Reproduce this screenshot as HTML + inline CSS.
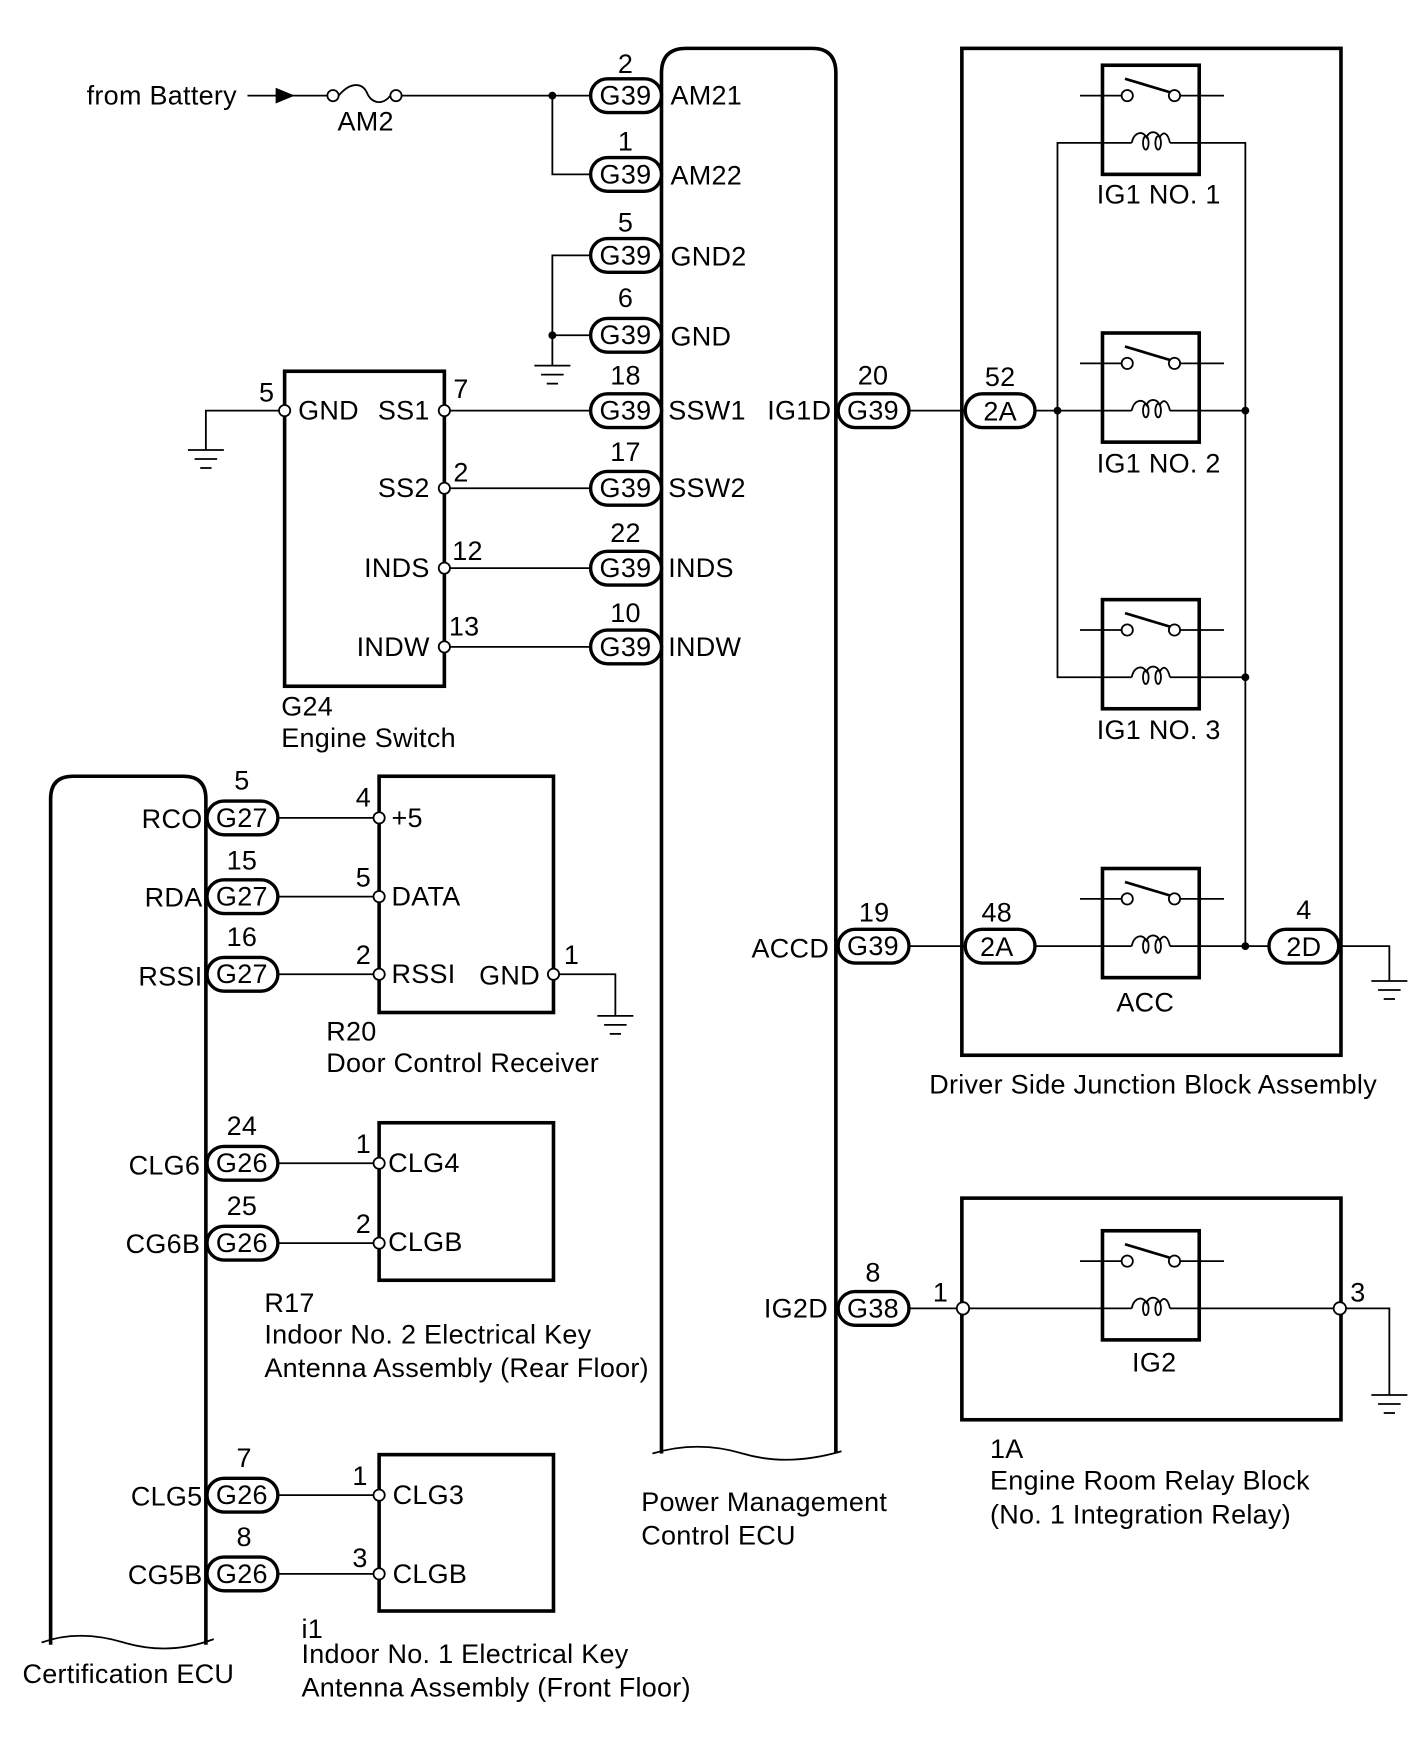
<!DOCTYPE html>
<html><head><meta charset="utf-8"><style>
html,body{margin:0;padding:0;background:#fff}
svg{display:block}
text{font-family:"Liberation Sans",sans-serif;font-size:24px;letter-spacing:0.25px;fill:#000}
.w{stroke:#000;stroke-width:1.6;fill:none}
.t{stroke:#000;stroke-width:3.2;fill:none}
.p{stroke:#000;stroke-width:3;fill:#fff}
.c{stroke:#000;stroke-width:1.6;fill:#fff}
.m{text-anchor:middle}
.e{text-anchor:end}
</style></head><body>
<svg width="1424" height="1763" viewBox="0 0 1265.8 1567.1" preserveAspectRatio="none" xmlns="http://www.w3.org/2000/svg">
<defs>
<g id="relay">
<rect x="0" y="0" width="86" height="97" class="t"/>
<line x1="-20" y1="27" x2="17" y2="27" class="w"/>
<line x1="69" y1="27" x2="108" y2="27" class="w"/>
<circle cx="22" cy="27" r="5" class="c"/>
<circle cx="64" cy="27" r="5" class="c"/>
<line x1="20" y1="12" x2="60" y2="24" stroke="#000" stroke-width="2.4"/>
<line x1="0" y1="69" x2="26" y2="69" class="w"/>
<line x1="60" y1="69" x2="86" y2="69" class="w"/>
<path d="M26,69 C28,59 36,58 39,64 C42,58 48,58 51,64 C54,58 58,60 60,69" class="w"/>
<ellipse cx="38.5" cy="69" rx="2.5" ry="6" class="w"/>
<ellipse cx="49.5" cy="69" rx="2.5" ry="6" class="w"/>
</g>
<g id="gnd">
<line x1="-16" y1="0" x2="16" y2="0" class="w"/>
<line x1="-10" y1="8" x2="10" y2="8" class="w"/>
<line x1="-5" y1="16" x2="5" y2="16" class="w"/>
</g>
</defs>

<text x="77" y="93">from Battery</text>
<line x1="220" y1="85" x2="296" y2="85" class="w"/>
<polygon points="245,78 262,85 245,92" fill="#000"/>
<circle cx="296" cy="85" r="5" class="c"/>
<circle cx="352" cy="85" r="5" class="c"/>
<path d="M301,85 C312,72 322,74 326,82 C330,92 340,94 347,85" class="w"/>
<text x="325" y="116" class="m">AM2</text>
<line x1="357" y1="85" x2="525" y2="85" class="w"/>
<circle cx="491" cy="85" r="3.5" fill="#000"/>
<polyline points="491,85 491,155 525,155" class="w"/>
<polyline points="525,227 491,227 491,325" class="w"/>
<line x1="491" y1="298" x2="525" y2="298" class="w"/>
<circle cx="491" cy="298" r="3.5" fill="#000"/>
<use href="#gnd" x="491" y="325"/>

<path d="M588,1292 L588,65 Q588,43 610,43 L722,43 Q743,43 743,65 L743,1292" class="t"/>
<path d="M580,1292 Q620,1280 660,1292 T748,1290" class="w" stroke-width="2.4"/>
<text x="570" y="1343">Power Management</text>
<text x="570" y="1373">Control ECU</text>

<g>
<rect x="525" y="70" width="63" height="30" rx="15" class="p"/><text x="556" y="93" class="m">G39</text><text x="556" y="65" class="m">2</text><text x="596" y="93">AM21</text>
<rect x="525" y="140" width="63" height="30" rx="15" class="p"/><text x="556" y="163" class="m">G39</text><text x="556" y="134" class="m">1</text><text x="596" y="164">AM22</text>
<rect x="525" y="212" width="63" height="30" rx="15" class="p"/><text x="556" y="235" class="m">G39</text><text x="556" y="206" class="m">5</text><text x="596" y="236">GND2</text>
<rect x="525" y="283" width="63" height="30" rx="15" class="p"/><text x="556" y="306" class="m">G39</text><text x="556" y="273" class="m">6</text><text x="596" y="307">GND</text>
<rect x="525" y="350" width="63" height="30" rx="15" class="p"/><text x="556" y="373" class="m">G39</text><text x="556" y="342" class="m">18</text><text x="594" y="373">SSW1</text>
<rect x="525" y="419" width="63" height="30" rx="15" class="p"/><text x="556" y="442" class="m">G39</text><text x="556" y="410" class="m">17</text><text x="594" y="442">SSW2</text>
<rect x="525" y="490" width="63" height="30" rx="15" class="p"/><text x="556" y="513" class="m">G39</text><text x="556" y="482" class="m">22</text><text x="594" y="513">INDS</text>
<rect x="525" y="560" width="63" height="30" rx="15" class="p"/><text x="556" y="583" class="m">G39</text><text x="556" y="553" class="m">10</text><text x="594" y="583">INDW</text>
</g>

<rect x="253" y="330" width="142" height="280" class="t"/>
<line x1="400" y1="365" x2="525" y2="365" class="w"/>
<line x1="400" y1="434" x2="525" y2="434" class="w"/>
<line x1="400" y1="505" x2="525" y2="505" class="w"/>
<line x1="400" y1="575" x2="525" y2="575" class="w"/>
<polyline points="248,365 183,365 183,400" class="w"/>
<use href="#gnd" x="183" y="400"/>
<circle cx="253" cy="365" r="5" class="c"/>
<circle cx="395" cy="365" r="5" class="c"/>
<circle cx="395" cy="434" r="5" class="c"/>
<circle cx="395" cy="505" r="5" class="c"/>
<circle cx="395" cy="575" r="5" class="c"/>
<text x="237" y="357" class="m">5</text><text x="265" y="373">GND</text>
<text x="382" y="373" class="e">SS1</text><text x="403" y="354">7</text>
<text x="382" y="442" class="e">SS2</text><text x="403" y="428">2</text>
<text x="382" y="513" class="e">INDS</text><text x="402" y="498">12</text>
<text x="382" y="583" class="e">INDW</text><text x="399" y="565">13</text>
<text x="250" y="636">G24</text>
<text x="250" y="664">Engine Switch</text>

<text x="739" y="373" class="e">IG1D</text>
<rect x="745" y="350" width="63" height="30" rx="15" class="p"/><text x="776" y="373" class="m">G39</text><text x="776" y="342" class="m">20</text>
<line x1="808" y1="365" x2="858" y2="365" class="w"/>
<rect x="858" y="350" width="62" height="30" rx="15" class="p"/><text x="889" y="374" class="m">2A</text><text x="889" y="343" class="m">52</text>
<line x1="920" y1="365" x2="980" y2="365" class="w"/>

<text x="737" y="851" class="e">ACCD</text>
<rect x="745" y="826" width="63" height="30" rx="15" class="p"/><text x="776" y="849" class="m">G39</text><text x="777" y="819" class="m">19</text>
<line x1="808" y1="841" x2="858" y2="841" class="w"/>
<rect x="858" y="826" width="62" height="30" rx="15" class="p"/><text x="886" y="850" class="m">2A</text><text x="886" y="819" class="m">48</text>
<line x1="920" y1="841" x2="980" y2="841" class="w"/>

<text x="736" y="1171" class="e">IG2D</text>
<rect x="745" y="1148" width="63" height="30" rx="15" class="p"/><text x="776" y="1171" class="m">G38</text><text x="776" y="1139" class="m">8</text>
<line x1="808" y1="1163" x2="853" y2="1163" class="w"/>

<rect x="855" y="43" width="337" height="895" class="t"/>
<polyline points="980,127 940,127 940,602 980,602" class="w"/>
<polyline points="1066,127 1107,127 1107,841" class="w"/>
<line x1="1066" y1="365" x2="1107" y2="365" class="w"/>
<line x1="1066" y1="602" x2="1107" y2="602" class="w"/>
<line x1="1066" y1="841" x2="1128" y2="841" class="w"/>
<circle cx="940" cy="365" r="3.5" fill="#000"/>
<circle cx="1107" cy="365" r="3.5" fill="#000"/>
<circle cx="1107" cy="602" r="3.5" fill="#000"/>
<circle cx="1107" cy="841" r="3.5" fill="#000"/>
<use href="#relay" x="980" y="58"/>
<use href="#relay" x="980" y="296"/>
<use href="#relay" x="980" y="533"/>
<use href="#relay" x="980" y="772"/>
<text x="1030" y="181" class="m">IG1 NO. 1</text>
<text x="1030" y="420" class="m">IG1 NO. 2</text>
<text x="1030" y="657" class="m">IG1 NO. 3</text>
<text x="1018" y="899" class="m">ACC</text>
<rect x="1128" y="826" width="62" height="30" rx="15" class="p"/><text x="1159" y="850" class="m">2D</text><text x="1159" y="817" class="m">4</text>
<polyline points="1192,841 1235,841 1235,872" class="w"/>
<use href="#gnd" x="1235" y="872"/>
<text x="1025" y="972" class="m">Driver Side Junction Block Assembly</text>

<rect x="855" y="1065" width="337" height="197" class="t"/>
<line x1="858" y1="1163" x2="980" y2="1163" class="w"/>
<line x1="1066" y1="1163" x2="1192" y2="1163" class="w"/>
<use href="#relay" x="980" y="1094"/>
<circle cx="856" cy="1163" r="5.5" class="c"/>
<circle cx="1191" cy="1163" r="5.5" class="c"/>
<text x="836" y="1157" class="m">1</text>
<text x="1207" y="1157" class="m">3</text>
<polyline points="1196,1163 1235,1163 1235,1240" class="w"/>
<use href="#gnd" x="1235" y="1240"/>
<text x="1026" y="1219" class="m">IG2</text>
<text x="880" y="1296">1A</text>
<text x="880" y="1324">Engine Room Relay Block</text>
<text x="880" y="1354">(No. 1 Integration Relay)</text>

<path d="M45,1462 L45,710 Q45,690 65,690 L163,690 Q183,690 183,710 L183,1462" class="t"/>
<path d="M37,1460 Q70,1448 110,1460 T190,1457" class="w" stroke-width="2.4"/>
<text x="20" y="1496">Certification ECU</text>

<g>
<line x1="247" y1="727" x2="333" y2="727" class="w"/>
<line x1="247" y1="797" x2="333" y2="797" class="w"/>
<line x1="247" y1="866" x2="333" y2="866" class="w"/>
<line x1="247" y1="1034" x2="333" y2="1034" class="w"/>
<line x1="247" y1="1105" x2="333" y2="1105" class="w"/>
<line x1="247" y1="1329" x2="333" y2="1329" class="w"/>
<line x1="247" y1="1399" x2="333" y2="1399" class="w"/>
<rect x="184" y="712" width="63" height="30" rx="15" class="p"/><text x="215" y="735" class="m">G27</text><text x="215" y="702" class="m">5</text><text x="180" y="736" class="e">RCO</text>
<rect x="184" y="782" width="63" height="30" rx="15" class="p"/><text x="215" y="805" class="m">G27</text><text x="215" y="773" class="m">15</text><text x="180" y="806" class="e">RDA</text>
<rect x="184" y="851" width="63" height="30" rx="15" class="p"/><text x="215" y="874" class="m">G27</text><text x="215" y="841" class="m">16</text><text x="180" y="876" class="e">RSSI</text>
<rect x="184" y="1019" width="63" height="30" rx="15" class="p"/><text x="215" y="1042" class="m">G26</text><text x="215" y="1009" class="m">24</text><text x="178" y="1044" class="e">CLG6</text>
<rect x="184" y="1090" width="63" height="30" rx="15" class="p"/><text x="215" y="1113" class="m">G26</text><text x="215" y="1080" class="m">25</text><text x="178" y="1114" class="e">CG6B</text>
<rect x="184" y="1314" width="63" height="30" rx="15" class="p"/><text x="215" y="1337" class="m">G26</text><text x="217" y="1304" class="m">7</text><text x="180" y="1338" class="e">CLG5</text>
<rect x="184" y="1384" width="63" height="30" rx="15" class="p"/><text x="215" y="1407" class="m">G26</text><text x="217" y="1374" class="m">8</text><text x="180" y="1408" class="e">CG5B</text>
</g>

<rect x="337" y="690" width="155" height="210" class="t"/>
<circle cx="337" cy="727" r="5" class="c"/>
<circle cx="337" cy="797" r="5" class="c"/>
<circle cx="337" cy="866" r="5" class="c"/>
<circle cx="492" cy="866" r="5" class="c"/>
<text x="323" y="717" class="m">4</text><text x="348" y="735">+5</text>
<text x="323" y="788" class="m">5</text><text x="348" y="805">DATA</text>
<text x="323" y="857" class="m">2</text><text x="348" y="874">RSSI</text>
<text x="480" y="875" class="e">GND</text><text x="508" y="857" class="m">1</text>
<polyline points="497,866 547,866 547,903" class="w"/>
<use href="#gnd" x="547" y="903"/>
<text x="290" y="925">R20</text>
<text x="290" y="953">Door Control Receiver</text>

<rect x="337" y="998" width="155" height="140" class="t"/>
<circle cx="337" cy="1034" r="5" class="c"/>
<circle cx="337" cy="1105" r="5" class="c"/>
<text x="323" y="1025" class="m">1</text><text x="345" y="1042">CLG4</text>
<text x="323" y="1096" class="m">2</text><text x="345" y="1112">CLGB</text>
<text x="235" y="1166">R17</text>
<text x="235" y="1194">Indoor No. 2 Electrical Key</text>
<text x="235" y="1224">Antenna Assembly (Rear Floor)</text>

<rect x="337" y="1293" width="155" height="139" class="t"/>
<circle cx="337" cy="1329" r="5" class="c"/>
<circle cx="337" cy="1399" r="5" class="c"/>
<text x="320" y="1320" class="m">1</text><text x="349" y="1337">CLG3</text>
<text x="320" y="1393" class="m">3</text><text x="349" y="1407">CLGB</text>
<text x="268" y="1456">i1</text>
<text x="268" y="1478">Indoor No. 1 Electrical Key</text>
<text x="268" y="1508">Antenna Assembly (Front Floor)</text>
</svg>
</body></html>
